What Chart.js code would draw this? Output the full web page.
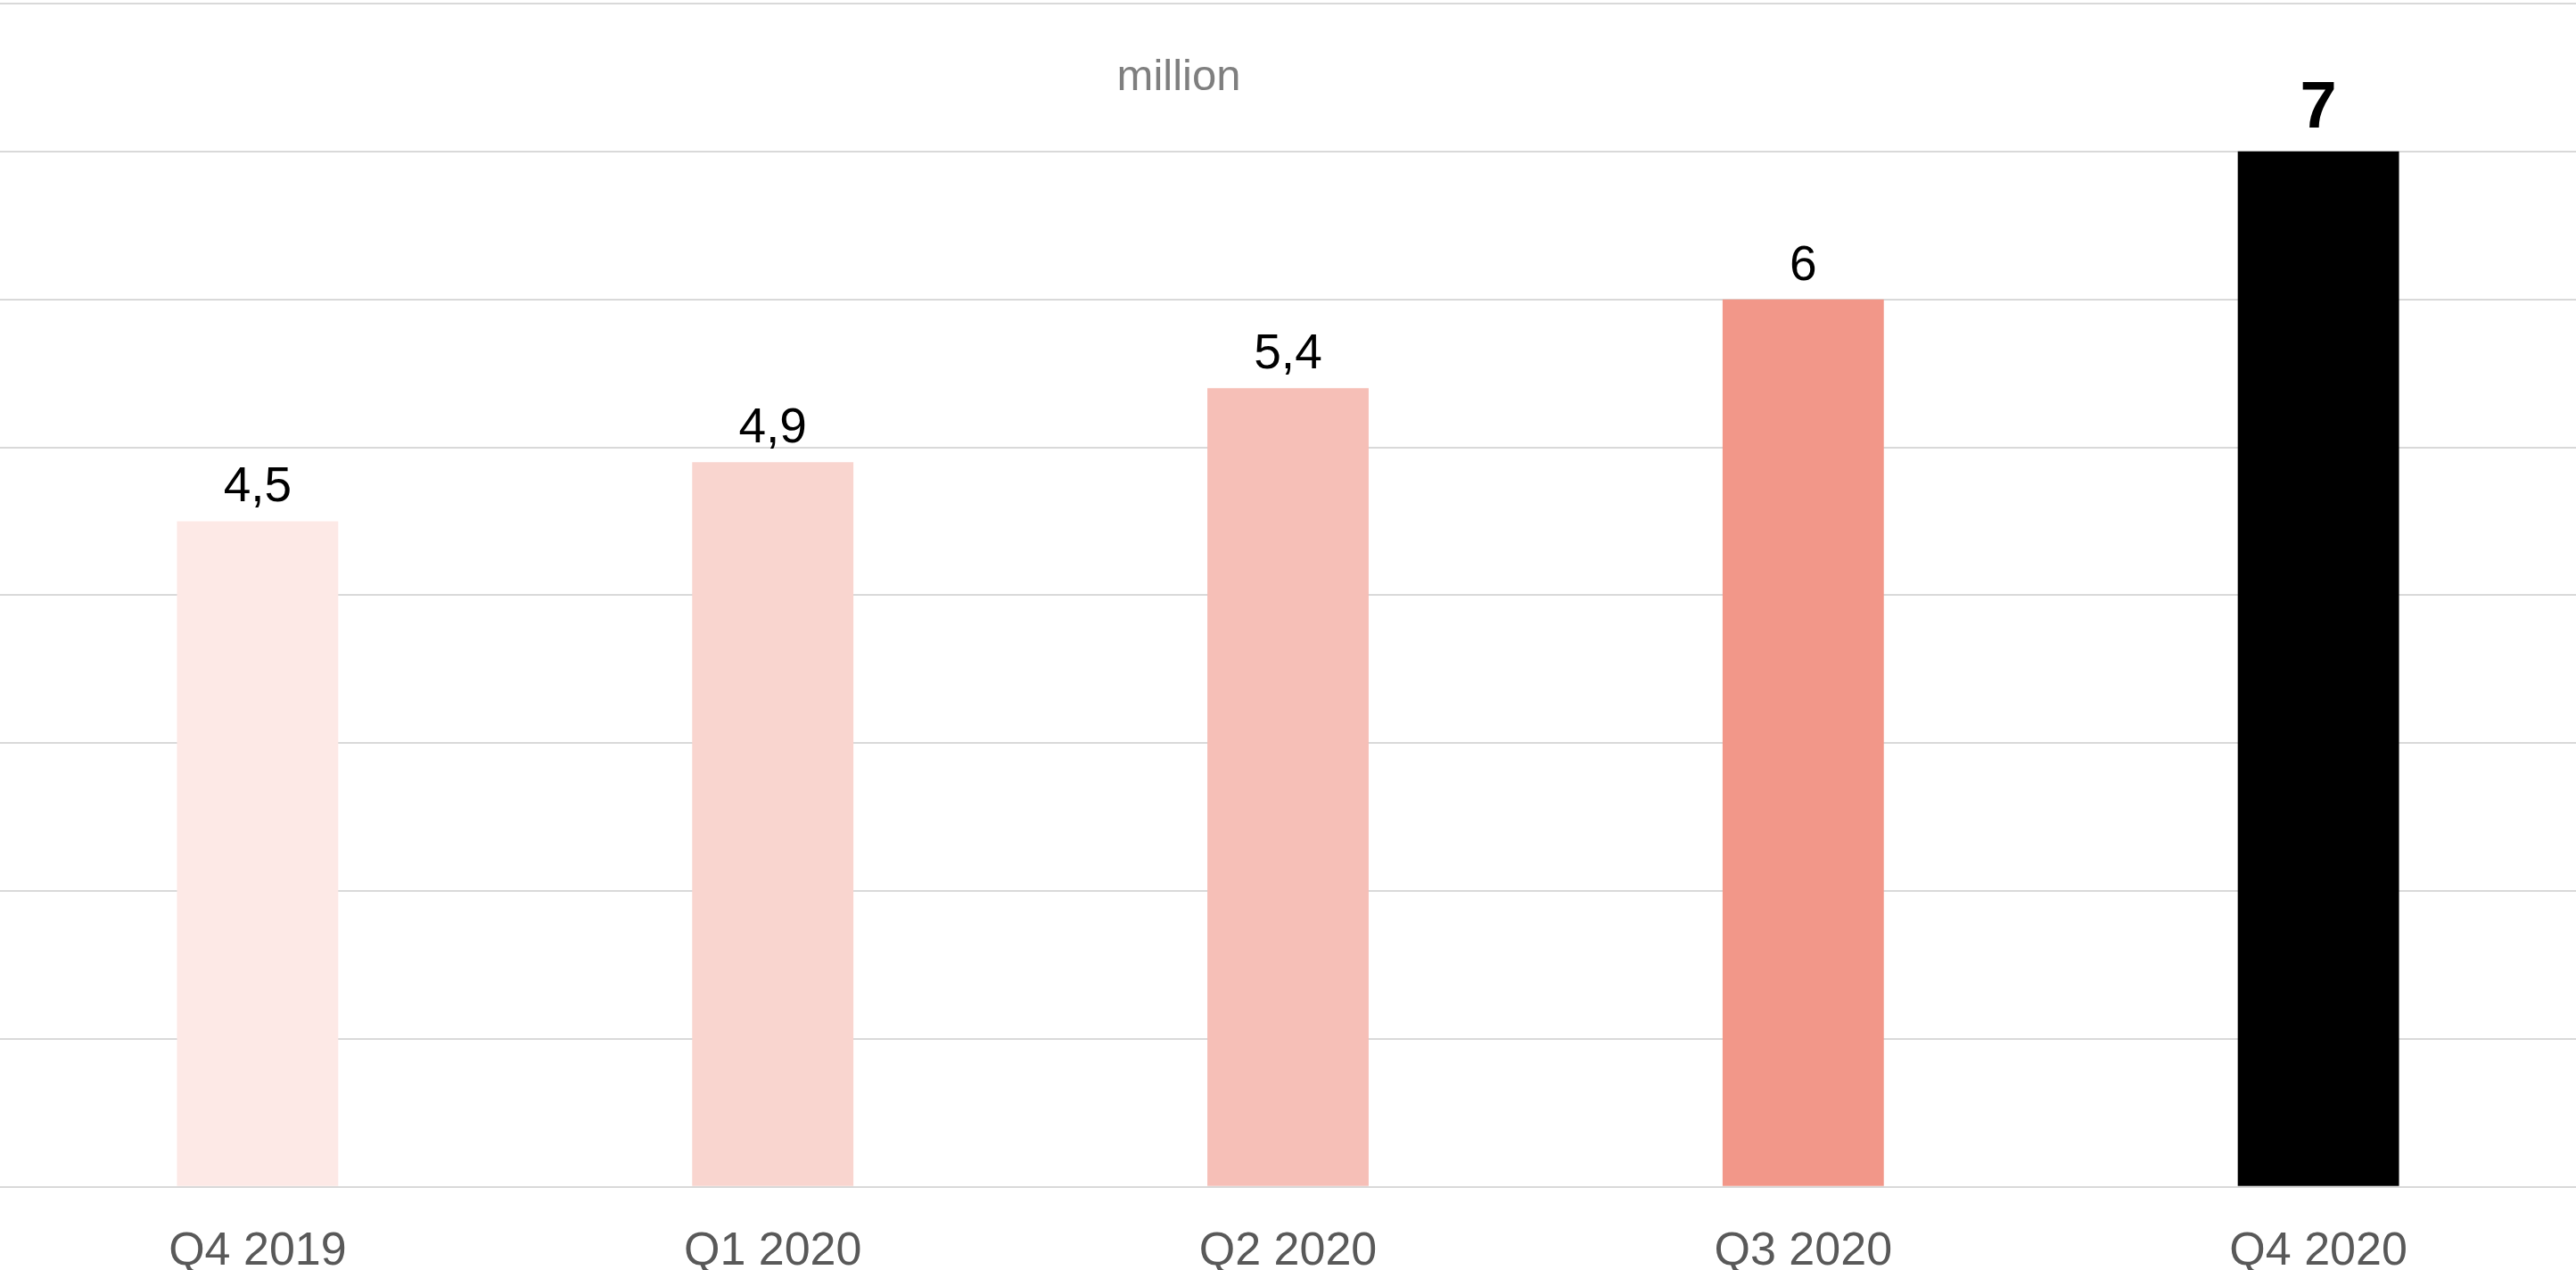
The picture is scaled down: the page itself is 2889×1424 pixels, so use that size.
<!DOCTYPE html>
<html>
<head>
<meta charset="utf-8">
<script src="https://cdn.jsdelivr.net/npm/chart.js@4/dist/chart.umd.min.js"></script>
<style>
  html, body { margin: 0; padding: 0; background: #ffffff; }
  #wrap { position: relative; width: 2889px; height: 1424px; }
</style>
</head>
<body>
<div id="wrap"><canvas id="chart"></canvas></div>
<script>
// Quarterly figures, in millions
const quarters = ['Q4 2019', 'Q1 2020', 'Q2 2020', 'Q3 2020', 'Q4 2020'];
const values = [4.5, 4.9, 5.4, 6, 7];
const unitLabel = 'million';

// Bar fills: light-to-dark salmon, latest quarter in black
const barColors = ['#fde9e6', '#f9d5cf', '#f6bfb7', '#f29789', '#000000'];
const FONT = '"Liberation Sans", Arial, sans-serif';

// Value labels above each bar, decimal comma; latest quarter emphasised
const valueLabels = {
  id: 'valueLabels',
  afterDatasetsDraw(chart) {
    const ctx = chart.ctx;
    const meta = chart.getDatasetMeta(0);
    const last = meta.data.length - 1;
    ctx.save();
    ctx.textAlign = 'center';
    ctx.textBaseline = 'alphabetic';
    ctx.fillStyle = '#000000';
    meta.data.forEach((bar, i) => {
      const txt = String(values[i]).replace('.', ',');
      if (i === last) {
        ctx.font = 'bold 74px ' + FONT;
        ctx.fillText(txt, bar.x, bar.y - 27);
      } else {
        ctx.font = '55px ' + FONT;
        ctx.fillText(txt, bar.x, bar.y - 22);
      }
    });
    ctx.restore();
  }
};

// Unit caption near the top of the plot
const unitCaption = {
  id: 'unitCaption',
  afterDraw(chart) {
    const { ctx, chartArea } = chart;
    ctx.save();
    ctx.font = '49px ' + FONT;
    ctx.fillStyle = '#7f7f7f';
    ctx.textAlign = 'center';
    ctx.textBaseline = 'alphabetic';
    const x = chartArea.left + (chartArea.right - chartArea.left) * 0.4576;
    ctx.fillText(unitLabel, x, chartArea.top + 97);
    ctx.restore();
  }
};

new Chart(document.getElementById('chart'), {
  type: 'bar',
  data: {
    labels: quarters,
    datasets: [{
      data: values,
      backgroundColor: barColors,
      borderWidth: 0,
      barPercentage: 0.313,
      categoryPercentage: 1.0
    }]
  },
  options: {
    responsive: true,
    maintainAspectRatio: false,
    animation: false,
    layout: { padding: { top: 4, left: 0, right: 0, bottom: -44 } },
    plugins: {
      legend: { display: false },
      tooltip: { enabled: false },
      title: { display: false }
    },
    scales: {
      x: {
        grid: { display: false },
        border: { display: false },
        ticks: {
          color: '#595959',
          font: { family: FONT, size: 52, lineHeight: 1.1 },
          padding: 36,
          maxRotation: 0
        }
      },
      y: {
        min: 0,
        max: 8,
        border: { display: false },
        grid: { color: '#d9d9d9', lineWidth: 2, drawTicks: false },
        ticks: { display: false, stepSize: 1 }
      }
    }
  },
  plugins: [valueLabels, unitCaption]
});
</script>
</body>
</html>
